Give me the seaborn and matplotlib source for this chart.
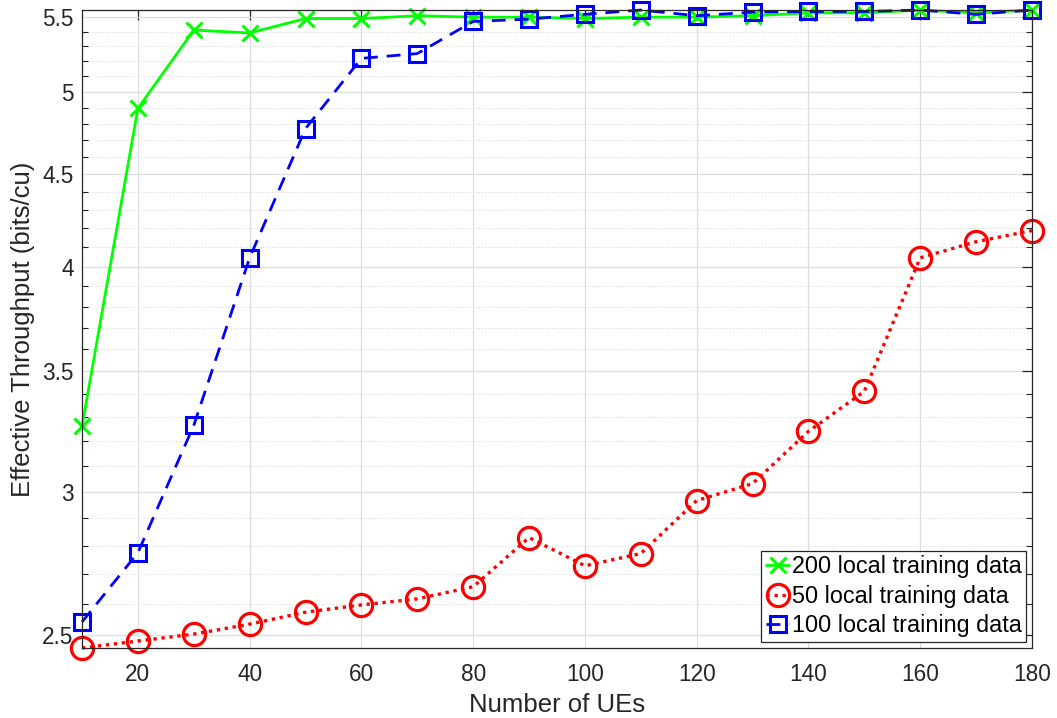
import numpy as np
import pandas as pd
import matplotlib
matplotlib.use("Agg")
import matplotlib.pyplot as plt
import matplotlib.ticker as mticker
import seaborn as sns

# Number of UEs on the x axis
num_ues = [10, 20, 30, 40, 50, 60, 70, 80, 90, 100, 110, 120, 130, 140, 150, 160, 170, 180]

# Effective throughput (bits/cu) for each amount of local training data
thr_200 = [3.262, 4.895, 5.41, 5.39, 5.49, 5.49, 5.51, 5.50, 5.50, 5.49,
           5.50, 5.50, 5.51, 5.53, 5.53, 5.55, 5.53, 5.55]
thr_50 = [2.458, 2.480, 2.502, 2.534, 2.573, 2.597, 2.617, 2.658, 2.830, 2.730,
          2.773, 2.967, 3.032, 3.241, 3.411, 4.045, 4.129, 4.188]
thr_100 = [2.541, 2.776, 3.266, 4.045, 4.771, 5.218, 5.25, 5.47, 5.486, 5.52,
           5.55, 5.51, 5.535, 5.54, 5.54, 5.55, 5.52, 5.55]

labels = ["200 local training data", "50 local training data", "100 local training data"]
y_ticks = [2.5, 3, 3.5, 4, 4.5, 5, 5.5]
y_tick_labels = ["2.5", "3", "3.5", "4", "4.5", "5", "5.5"]
x_ticks = [20, 40, 60, 80, 100, 120, 140, 160, 180]

sns.set_theme(style="white")
plt.rcParams["font.family"] = ["Liberation Sans", "DejaVu Sans"]

axis_col = (0.15, 0.15, 0.15)
green, red, blue = (0, 1, 0), (1, 0, 0), (0, 0, 1)

fig = plt.figure(figsize=(10.57, 7.18), dpi=100)
ax = fig.add_axes([0.0776, 0.0975, 0.8987, 0.8885])

sns.lineplot(x=num_ues, y=thr_200, ax=ax, color=green, linestyle="-",
             linewidth=2.0, marker="x", markersize=11, markeredgewidth=2.2,
             markeredgecolor=green, label=labels[0], clip_on=False)
sns.lineplot(x=num_ues, y=thr_50, ax=ax, color=red, linestyle=(0, (1, 1.4)),
             linewidth=2.4, marker="o", markersize=16, markeredgewidth=2.3,
             markerfacecolor="none", markeredgecolor=red, label=labels[1], clip_on=False)
sns.lineplot(x=num_ues, y=thr_100, ax=ax, color=blue, linestyle=(0, (5, 3.2)),
             linewidth=2.0, marker="s", markersize=11, markeredgewidth=2.2,
             markerfacecolor="none", markeredgecolor=blue, label=labels[2], clip_on=False)

ax.set_yscale("log")
ax.set_xlim(10, 180)
ax.set_ylim(min(thr_50), max(thr_100 + thr_200))

ax.set_xticks(x_ticks)
ax.set_xticklabels([str(t) for t in x_ticks])
ax.yaxis.set_major_locator(mticker.FixedLocator(y_ticks))
ax.yaxis.set_major_formatter(mticker.FixedFormatter(y_tick_labels))
ax.yaxis.set_minor_locator(mticker.FixedLocator(np.round(np.arange(2.5, 5.61, 0.1), 2)))
ax.yaxis.set_minor_formatter(mticker.NullFormatter())

ax.grid(True, which="major", color=(0.87, 0.87, 0.87), linewidth=0.9, linestyle="-")
ax.grid(True, which="minor", axis="y", color=(0.82, 0.82, 0.82), linewidth=0.7,
        linestyle=(0, (1, 2)))
ax.set_axisbelow(True)

ax.tick_params(axis="both", which="major", direction="in", length=7, width=0.9,
               colors=axis_col, labelsize=16.3, top=True, right=True)
ax.tick_params(axis="x", which="major", pad=11)
ax.tick_params(axis="y", which="major", pad=6)
ax.tick_params(axis="y", which="minor", direction="in", length=4, width=0.8,
               colors=axis_col, left=True, right=True)
for side in ax.spines.values():
    side.set_color(axis_col)
    side.set_linewidth(0.9)

ax.set_xlabel("Number of UEs", fontsize=18.5, color=axis_col, labelpad=5)
ax.set_ylabel("Effective Throughput (bits/cu)", fontsize=18.5, color=axis_col, labelpad=5)

leg = ax.legend(loc="lower right", fontsize=16.8, frameon=True, fancybox=False,
                edgecolor=axis_col, framealpha=1, handlelength=1.0, handletextpad=0.1,
                borderpad=0.2, labelspacing=0.28, borderaxespad=0.25)
leg.get_frame().set_linewidth(0.9)
for t in leg.get_texts():
    t.set_color("black")

fig.savefig("out.png", dpi=100)
